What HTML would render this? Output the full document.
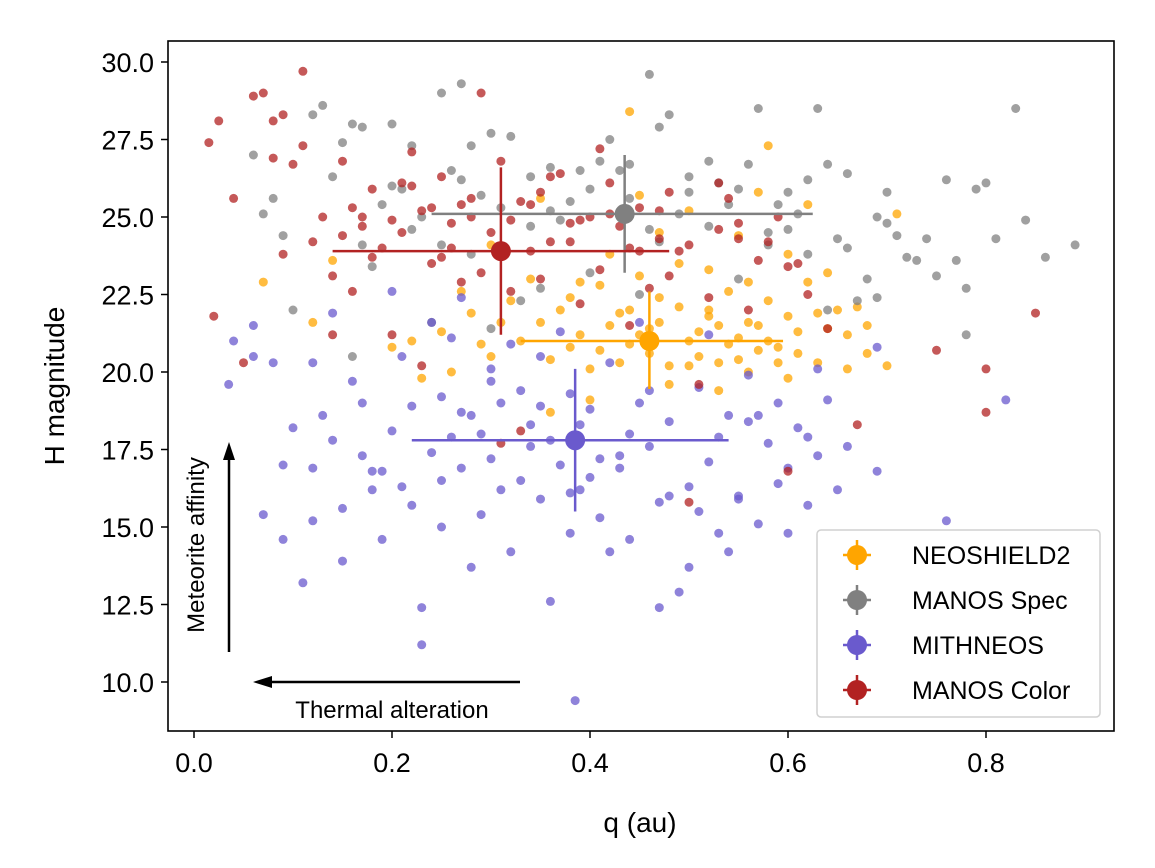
<!DOCTYPE html>
<html><head><meta charset="utf-8"><style>
body{margin:0;background:#fff;}
svg{display:block;font-family:"Liberation Sans","DejaVu Sans",sans-serif;}
</style></head><body>
<svg id="chart" width="1155" height="868" viewBox="0 0 1155 868">
<rect x="0" y="0" width="1155" height="868" fill="#fff"/>
<g id="points"></g>
<g id="errs"></g>
<rect x="168" y="41" width="946" height="690" fill="none" stroke="#000" stroke-width="1.6"/>
<g id="axes"></g>
<text x="640" y="832" font-size="28" text-anchor="middle">q (au)</text>
<text transform="translate(64,386) rotate(-90)" font-size="28" text-anchor="middle">H magnitude</text>
<g>
<line x1="229" y1="652" x2="229" y2="458" stroke="#000" stroke-width="2.5"/>
<polygon points="229,442 223,460 235,460" fill="#000"/>
<text transform="translate(204,545) rotate(-90)" font-size="24" text-anchor="middle">Meteorite affinity</text>
</g>
<g>
<line x1="520" y1="682" x2="268" y2="682" stroke="#000" stroke-width="2.5"/>
<polygon points="253,682 272,676 272,688" fill="#000"/>
<text x="392" y="718" font-size="24" text-anchor="middle">Thermal alteration</text>
</g>
<g id="legend">
<rect x="817" y="530" width="283" height="187" rx="4" fill="#fff" fill-opacity="0.85" stroke="#d0d0d0" stroke-width="1.5"/>
</g>
</svg>
<script>
const seriesNames=["NEOSHIELD2","MANOS Spec","MITHNEOS","MANOS Color"];
const seriesColors=["#FFA500","#808080","#6A5ACD","#B22222"];
const xTicks=[0.0,0.2,0.4,0.6,0.8];
const xTickLabels=["0.0","0.2","0.4","0.6","0.8"];
const yTicks=[10,12.5,15,17.5,20,22.5,25,27.5,30];
const yTickLabels=["10.0","12.5","15.0","17.5","20.0","22.5","25.0","27.5","30.0"];
const neoQ=[0.07,0.12,0.14,0.2,0.22,0.25,0.26,0.28,0.3,0.32,0.33,0.35,0.36,0.38,0.39,0.4,0.41,0.42,0.43,0.44,0.45,0.46,0.47,0.48,0.49,0.5,0.51,0.52,0.53,0.54,0.55,0.56,0.57,0.58,0.59,0.6,0.61,0.62,0.63,0.64,0.65,0.66,0.67,0.68,0.7,0.71,0.44,0.58,0.45,0.5,0.55,0.6,0.52,0.47,0.57,0.4,0.36,0.48,0.53,0.6,0.64,0.34,0.3,0.42,0.56,0.49,0.38,0.31,0.27,0.23,0.66,0.62,0.35,0.44,0.46,0.54,0.51,0.55,0.58,0.61,0.43,0.41,0.37,0.53,0.57,0.63,0.68,0.5,0.47,0.39,0.29,0.52,0.56,0.59,0.45];
const neoH=[22.9,21.6,23.6,20.8,21.0,21.3,20.0,21.9,20.5,22.3,21.0,21.6,20.4,22.4,21.2,20.1,22.8,21.5,20.3,22.0,21.2,20.6,21.6,20.2,22.1,21.0,20.5,21.8,20.3,22.6,21.1,20.0,21.5,22.3,20.8,21.8,20.6,22.9,20.3,21.4,22.0,21.2,22.1,21.5,20.2,25.1,28.4,27.3,25.7,25.2,24.4,23.8,23.3,24.5,25.8,19.1,18.7,19.6,19.4,19.8,23.2,23.0,24.1,23.8,22.9,23.5,20.8,21.6,22.6,19.8,20.1,25.4,25.6,20.9,21.4,20.9,21.3,20.4,21.0,21.3,21.9,20.7,22.0,21.5,20.7,21.9,20.6,20.2,22.4,22.9,20.9,22.0,21.6,20.3,23.1];
const spcQ=[0.06,0.07,0.08,0.09,0.1,0.12,0.13,0.14,0.15,0.16,0.17,0.19,0.2,0.22,0.25,0.27,0.28,0.3,0.32,0.34,0.36,0.38,0.4,0.42,0.44,0.46,0.47,0.48,0.5,0.52,0.55,0.57,0.59,0.6,0.62,0.63,0.64,0.65,0.66,0.68,0.69,0.7,0.72,0.74,0.76,0.77,0.78,0.79,0.8,0.81,0.83,0.84,0.86,0.89,0.78,0.3,0.35,0.4,0.25,0.33,0.45,0.52,0.55,0.58,0.43,0.37,0.29,0.22,0.18,0.16,0.24,0.67,0.71,0.49,0.53,0.61,0.64,0.69,0.75,0.26,0.31,0.41,0.47,0.56,0.62,0.2,0.23,0.27,0.34,0.39,0.44,0.46,0.5,0.54,0.58,0.6,0.66,0.7,0.73,0.17,0.21,0.28,0.36];
const spcH=[27.0,25.1,25.6,24.4,22.0,28.3,28.6,26.3,27.4,28.0,27.9,25.4,28.0,27.3,29.0,29.3,27.3,27.7,27.6,26.3,26.6,25.5,25.9,27.5,26.7,29.6,27.9,28.3,26.3,26.8,25.9,28.5,25.4,24.6,23.8,28.5,26.7,24.3,24.0,23.0,22.4,25.8,23.7,24.3,26.2,23.6,22.7,25.9,26.1,24.3,28.5,24.9,23.7,24.1,21.2,21.4,22.7,23.2,24.1,22.3,22.5,24.7,23.0,24.5,26.5,24.9,25.7,24.6,23.4,20.5,21.6,22.3,24.4,25.1,26.1,25.1,22.0,25.0,23.1,26.5,25.3,26.8,24.2,26.7,26.2,26.0,25.0,26.2,24.7,26.5,25.6,24.6,25.8,25.4,24.1,25.8,26.4,24.8,23.6,24.1,25.9,23.8,25.2];
const mitQ=[0.035,0.04,0.06,0.06,0.07,0.08,0.09,0.09,0.1,0.11,0.12,0.12,0.13,0.14,0.15,0.16,0.17,0.18,0.19,0.2,0.21,0.22,0.23,0.23,0.24,0.25,0.25,0.26,0.27,0.28,0.29,0.3,0.3,0.31,0.32,0.33,0.34,0.35,0.35,0.36,0.37,0.38,0.38,0.385,0.39,0.4,0.41,0.42,0.43,0.44,0.45,0.46,0.47,0.48,0.49,0.5,0.5,0.51,0.52,0.53,0.54,0.55,0.56,0.57,0.58,0.59,0.6,0.6,0.61,0.62,0.63,0.64,0.65,0.66,0.69,0.69,0.76,0.82,0.27,0.2,0.24,0.32,0.28,0.19,0.15,0.37,0.45,0.52,0.42,0.47,0.33,0.26,0.21,0.36,0.4,0.57,0.63,0.54,0.44,0.31,0.12,0.17,0.22,0.25,0.29,0.34,0.39,0.43,0.48,0.53,0.56,0.59,0.62,0.14,0.18,0.27,0.35,0.41,0.46,0.51,0.55,0.3,0.38];
const mitH=[19.6,21.0,20.5,21.5,15.4,20.3,17.0,14.6,18.2,13.2,20.3,15.2,18.6,21.9,13.9,19.7,17.3,16.2,14.6,18.1,20.5,15.7,12.4,11.2,17.4,19.2,15.0,21.1,16.9,18.6,15.4,20.1,17.2,19.0,14.2,16.5,18.3,20.5,15.9,12.6,17.0,19.3,14.8,9.4,16.2,18.8,15.3,20.3,16.9,14.6,19.0,17.6,15.8,18.4,12.9,16.3,13.7,19.5,17.1,14.8,18.6,16.0,19.9,15.1,17.7,19.0,14.8,16.9,18.2,15.7,17.3,19.1,16.2,17.6,20.8,16.8,15.2,19.1,22.4,22.6,21.6,20.9,13.7,16.8,15.6,21.3,21.6,21.2,14.2,12.4,19.4,17.9,16.3,17.8,16.6,18.6,20.1,14.2,18.0,16.2,16.9,19.0,18.9,16.5,18.0,17.6,18.3,17.3,16.0,17.9,18.4,16.4,17.9,17.8,16.8,18.7,18.9,17.2,19.4,15.5,15.9,19.7,16.1];
const colQ=[0.015,0.02,0.025,0.04,0.05,0.06,0.07,0.08,0.08,0.09,0.09,0.1,0.11,0.11,0.12,0.14,0.15,0.16,0.16,0.17,0.18,0.2,0.2,0.22,0.22,0.23,0.24,0.25,0.26,0.27,0.28,0.29,0.3,0.31,0.32,0.33,0.34,0.35,0.36,0.37,0.38,0.39,0.4,0.41,0.42,0.43,0.44,0.45,0.46,0.47,0.48,0.5,0.52,0.53,0.55,0.56,0.58,0.6,0.62,0.64,0.67,0.5,0.6,0.75,0.8,0.8,0.85,0.31,0.33,0.13,0.19,0.27,0.36,0.41,0.21,0.25,0.35,0.45,0.48,0.54,0.57,0.18,0.29,0.39,0.51,0.23,0.14,0.15,0.17,0.21,0.24,0.26,0.28,0.32,0.34,0.38,0.42,0.44,0.47,0.49,0.53,0.55,0.59,0.61];
const colH=[27.4,21.8,28.1,25.6,20.3,28.9,29.0,26.9,28.1,28.3,23.8,26.7,29.7,27.3,24.2,23.1,26.8,25.3,22.6,24.7,25.9,24.9,21.2,26.0,27.1,25.2,23.5,26.3,24.8,22.9,25.6,29.0,24.5,26.8,22.6,25.5,23.9,25.8,24.2,26.4,24.8,22.2,25.0,23.3,26.1,24.7,21.5,23.9,22.7,24.3,23.1,24.1,22.4,26.1,24.8,22.0,24.2,23.4,22.5,21.4,18.3,15.8,16.8,20.7,20.1,18.7,21.9,17.7,18.1,25.0,24.0,25.4,26.3,27.2,26.1,23.7,23.0,25.3,25.8,25.6,23.6,23.7,23.2,24.9,19.6,20.2,21.2,24.4,25.0,24.5,25.3,24.0,25.0,24.9,25.4,24.2,25.1,24.0,25.2,23.9,24.6,24.3,25.0,23.5];
const errQ=[0.46,0.435,0.385,0.31];
const errH=[21.0,25.1,17.8,23.9];
const errQlo=[0.33,0.24,0.22,0.14];
const errQhi=[0.595,0.625,0.54,0.48];
const errHlo=[19.45,23.2,15.5,21.2];
const errHhi=[22.6,27.0,20.1,26.6];

const X=q=>194+q*990;
const Y=h=>682-(h-10)*31.0;
const NS="http://www.w3.org/2000/svg";
function mk(tag,attrs,parent){const e=document.createElementNS(NS,tag);for(const k in attrs)e.setAttribute(k,attrs[k]);parent.appendChild(e);return e;}

const pts=document.getElementById('points');
const allQ=[neoQ,spcQ,mitQ,colQ], allH=[neoH,spcH,mitH,colH];
for(let s=0;s<4;s++){
  for(let i=0;i<allQ[s].length;i++){
    const c=mk('circle',{cx:X(allQ[s][i]),cy:Y(allH[s][i]),r:4.5,fill:seriesColors[s],'fill-opacity':0.75},pts);
    
    
  }
}
const errs=document.getElementById('errs');
for(let s=0;s<4;s++){
  const g=mk('g',{},errs);
  
  
  mk('line',{x1:X(errQlo[s]),x2:X(errQhi[s]),y1:Y(errH[s]),y2:Y(errH[s]),stroke:seriesColors[s],'stroke-width':2.5},g);
  mk('line',{x1:X(errQ[s]),x2:X(errQ[s]),y1:Y(errHlo[s]),y2:Y(errHhi[s]),stroke:seriesColors[s],'stroke-width':2.5},g);
  mk('circle',{cx:X(errQ[s]),cy:Y(errH[s]),r:10,fill:seriesColors[s]},g);
}
const ax=document.getElementById('axes');
for(let i=0;i<xTicks.length;i++){
  const x=X(xTicks[i]);
  mk('line',{x1:x,x2:x,y1:731,y2:738,stroke:'#000','stroke-width':1.5},ax);
  const t=mk('text',{x:x,y:772,'font-size':27,'text-anchor':'middle'},ax);
  t.textContent=xTickLabels[i];
  
  
}
for(let i=0;i<yTicks.length;i++){
  const y=Y(yTicks[i]);
  mk('line',{x1:161,x2:168,y1:y,y2:y,stroke:'#000','stroke-width':1.5},ax);
  const t=mk('text',{x:154,y:y+10,'font-size':27,'text-anchor':'end'},ax);
  t.textContent=yTickLabels[i];
  
  
}
const lg=document.getElementById('legend');
for(let s=0;s<4;s++){
  const y=555+s*45;
  const g=mk('g',{},lg);
  
  
  mk('line',{x1:843,x2:871,y1:y,y2:y,stroke:seriesColors[s],'stroke-width':2.5},g);
  mk('line',{x1:857,x2:857,y1:y-15,y2:y+15,stroke:seriesColors[s],'stroke-width':2.5},g);
  mk('circle',{cx:857,cy:y,r:10,fill:seriesColors[s]},g);
  const t=mk('text',{x:912,y:y+9,'font-size':25},g);
  t.textContent=seriesNames[s];
}
</script>
</body></html>
